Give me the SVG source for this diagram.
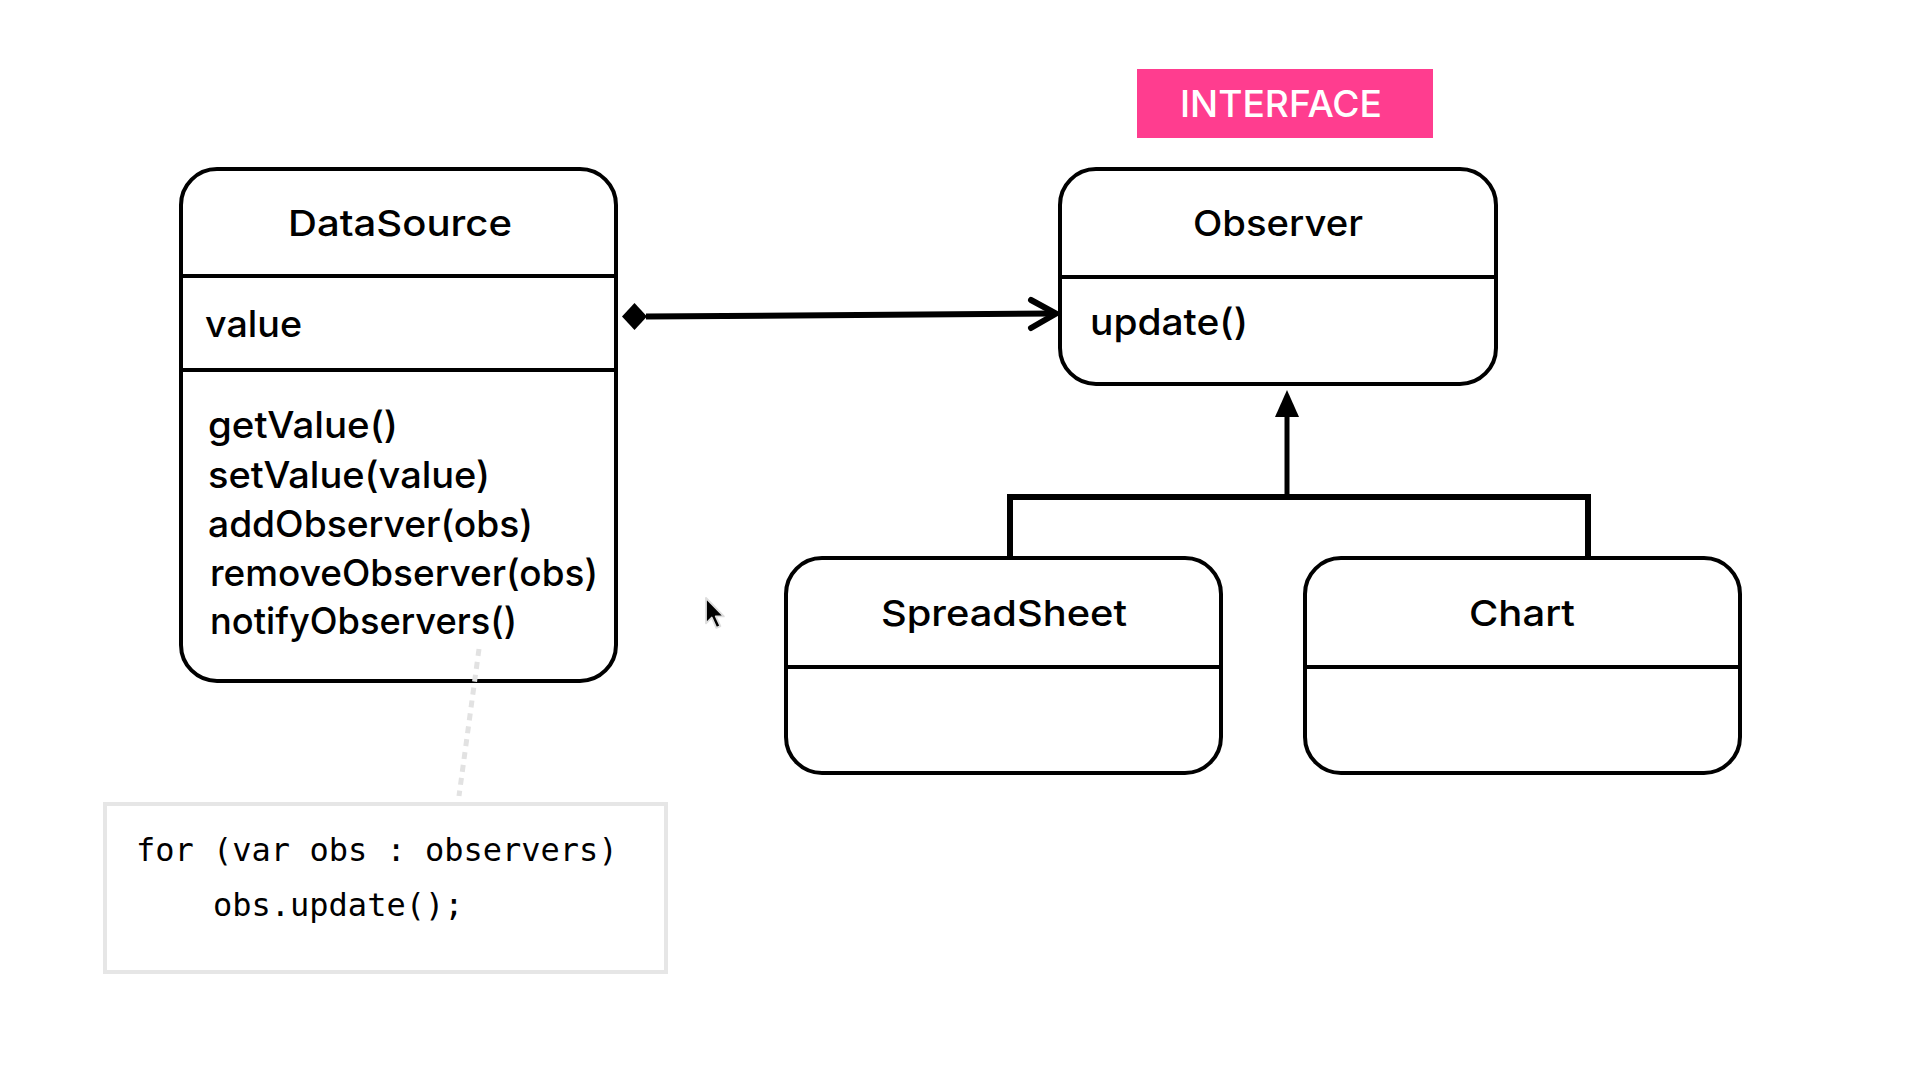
<svg xmlns="http://www.w3.org/2000/svg" width="1920" height="1080" viewBox="0 0 1920 1080">
  <style>
    .box { fill: #ffffff; stroke: #000000; stroke-width: 4; }
    .div { stroke: #000000; stroke-width: 4; }
    .title { font-family: Inter, "Noto Sans", sans-serif; font-size: 36px; font-weight: 500; fill: #000000; text-anchor: middle; }
    .item { font-family: Inter, "Noto Sans", sans-serif; font-size: 37px; font-weight: 500; fill: #000000; }
    .tag { font-family: Inter, "Noto Sans", sans-serif; font-size: 37px; font-weight: 500; fill: #ffffff; text-anchor: middle; }
    .code { font-family: "DejaVu Sans Mono", "Liberation Mono", monospace; font-size: 32px; fill: #000000; }
    .link { fill: none; stroke: #000000; stroke-width: 6; }
  </style>
  <defs>
    <filter id="soft" x="-30%" y="-30%" width="160%" height="160%">
      <feGaussianBlur stdDeviation="0.6"/>
    </filter>
  </defs>

  <rect width="1920" height="1080" fill="#ffffff"/>

  <!-- stereotype tag above Observer -->
  <g id="interface-tag">
    <rect x="1137" y="69" width="296" height="69" fill="#ff3d8f"/>
    <text class="tag" x="1281" y="117" textLength="202" lengthAdjust="spacingAndGlyphs">INTERFACE</text>
  </g>

  <!-- classes -->
  <g id="datasource">
    <rect class="box" x="181" y="169" width="435" height="512" rx="36" ry="36"/>
    <line class="div" x1="181" y1="276" x2="616" y2="276"/>
    <line class="div" x1="181" y1="370" x2="616" y2="370"/>
    <text class="title" x="400" y="236" textLength="224" lengthAdjust="spacingAndGlyphs">DataSource</text>
    <text class="item" x="205" y="337" textLength="97" lengthAdjust="spacingAndGlyphs">value</text>
    <text class="item" x="208" y="438" textLength="190" lengthAdjust="spacingAndGlyphs">getValue()</text>
    <text class="item" x="208" y="488" textLength="282" lengthAdjust="spacingAndGlyphs">setValue(value)</text>
    <text class="item" x="208" y="537" textLength="325" lengthAdjust="spacingAndGlyphs">addObserver(obs)</text>
    <text class="item" x="210" y="586" textLength="388" lengthAdjust="spacingAndGlyphs">removeObserver(obs)</text>
    <text class="item" x="210" y="634" textLength="307" lengthAdjust="spacingAndGlyphs">notifyObservers()</text>
  </g>

  <g id="observer">
    <rect class="box" x="1060" y="169" width="436" height="215" rx="36" ry="36"/>
    <line class="div" x1="1060" y1="277" x2="1496" y2="277"/>
    <text class="title" x="1278" y="236" textLength="170" lengthAdjust="spacingAndGlyphs">Observer</text>
    <text class="item" x="1090" y="335" textLength="158" lengthAdjust="spacingAndGlyphs">update()</text>
  </g>

  <g id="spreadsheet">
    <rect class="box" x="786" y="558" width="435" height="215" rx="36" ry="36"/>
    <line class="div" x1="786" y1="667" x2="1221" y2="667"/>
    <text class="title" x="1004" y="626" textLength="246" lengthAdjust="spacingAndGlyphs">SpreadSheet</text>
  </g>

  <g id="chart">
    <rect class="box" x="1305" y="558" width="435" height="215" rx="36" ry="36"/>
    <line class="div" x1="1305" y1="667" x2="1740" y2="667"/>
    <text class="title" x="1522" y="626" textLength="106" lengthAdjust="spacingAndGlyphs">Chart</text>
  </g>

  <g id="code-note">
    <rect x="105" y="804" width="561" height="168" fill="#ffffff" stroke="#e6e6e6" stroke-width="4"/>
    <text class="code" x="136" y="861">for (var obs : observers)</text>
    <text class="code" x="213" y="916">obs.update();</text>
  </g>

  <!-- connectors -->
  <g id="connectors">
    <!-- composition: DataSource holds Observers -->
    <line class="link" x1="646" y1="316.5" x2="1054" y2="313.5"/>
    <polygon points="622,316.5 634.5,303 647,316.5 634.5,330" fill="#000000"/>
    <polyline class="link" points="1031,300 1056,313.5 1031,328" stroke-linejoin="miter" stroke-linecap="round"/>

    <!-- realization: SpreadSheet and Chart implement Observer -->
    <path class="link" d="M1010 558 V497 H1588 V558" stroke-linejoin="miter"/>
    <line x1="1287" y1="497" x2="1287" y2="412" stroke="#000000" stroke-width="5"/>
    <polygon points="1287,390 1299,417 1275,417" fill="#000000"/>

    <!-- note link -->
    <line x1="479" y1="649" x2="459" y2="796" stroke="#e2e2e2" stroke-width="5" stroke-dasharray="7 6"/>
  </g>

  <!-- mouse pointer -->
  <g id="pointer" transform="translate(706 598) scale(1.15)" filter="url(#soft)">
    <path d="M0 0 L0 22 L5 17 L9 26 L12.5 24.5 L8.5 16 L15.5 16 Z" fill="#000000" stroke="#dddddd" stroke-width="1.6" stroke-linejoin="round"/>
  </g>
</svg>
